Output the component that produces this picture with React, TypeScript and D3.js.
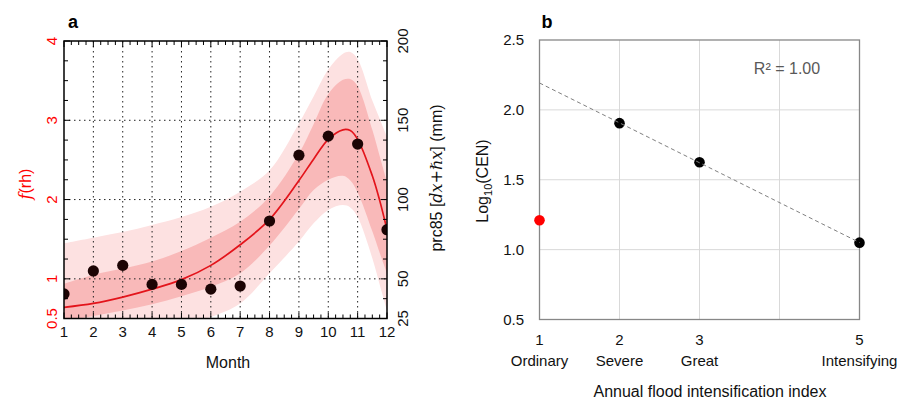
import React from "react";
import * as d3 from "d3";

// panel a: monthly precipitation (mm, right axis) and f(rh) fit with bands (left axis)
const months = d3.range(1, 13);
const monthRain = [40.5, 55, 58.5, 46.5, 46.5, 43.5, 45.5, 86.5, 128, 140, 135, 81];

const fitMonths = [1, 2, 3, 4, 5, 6, 7, 8, 9, 9.5, 10, 10.5, 10.75, 11, 11.5, 11.75, 12];
const fitValue = [0.64, 0.69, 0.77, 0.87, 0.99, 1.17, 1.43, 1.75, 2.24, 2.51, 2.76, 2.88, 2.87, 2.76, 2.3, 1.99, 1.62];
const outerHigh = [1.45, 1.52, 1.59, 1.68, 1.78, 1.91, 2.1, 2.37, 2.96, 3.3, 3.64, 3.84, 3.86, 3.77, 3.25, 3.02, 2.79];
const innerHigh = [0.94, 1.05, 1.13, 1.22, 1.35, 1.52, 1.72, 2.04, 2.58, 2.95, 3.33, 3.51, 3.52, 3.43, 2.88, 2.55, 2.22];
const innerLow = [0.47, 0.53, 0.6, 0.68, 0.78, 0.9, 1.07, 1.42, 1.88, 2.12, 2.25, 2.3, 2.24, 2.09, 1.6, 1.33, 1.07];
const outerLow = [0.25, 0.27, 0.3, 0.35, 0.42, 0.52, 0.69, 1.07, 1.47, 1.7, 1.87, 1.93, 1.9, 1.78, 1.26, 0.93, 0.6];

const fTicks = [0.5, 1, 2, 3, 4];
const mmTicks = [25, 50, 100, 150, 200];

// panel b: CEN vs flood intensification index
const floodIndex = [2, 3, 5];
const logCen = [1.905, 1.625, 1.05];
const ordinaryPoint = { x: 1, y: 1.21 };
const bTicksX = [1, 2, 3, 5];
const bTickNames = ["Ordinary", "Severe", "Great", "Intensifying"];
const bTicksY = [0.5, 1.0, 1.5, 2.0, 2.5];

const sans = "'Liberation Sans', Arial, sans-serif";
const serif = "'DejaVu Serif', 'Liberation Serif', serif";

function PanelA() {
  const x = d3.scaleLinear().domain([1, 12]).range([64, 387]);
  const y = d3.scaleLinear().domain([0.5, 4]).range([318.5, 41]);
  const yMm = d3.scaleLinear().domain([25, 200]).range([318.5, 41]);
  const [x0, x1] = x.range();
  const [y0, y1] = y.range();

  const idx = d3.range(fitMonths.length);
  const band = (lo: number[], hi: number[]) =>
    d3
      .area<number>()
      .x((i) => x(fitMonths[i]))
      .y0((i) => y(lo[i]))
      .y1((i) => y(hi[i]))
      .curve(d3.curveCatmullRom)(idx) as string;
  const fitLine = d3
    .line<number>()
    .x((i) => x(fitMonths[i]))
    .y((i) => y(fitValue[i]))
    .curve(d3.curveCatmullRom)(idx) as string;

  const minorY = d3.range(0.5, 4.001, 0.25);
  const minorX = d3.range(1, 12.001, 0.25);

  return (
    <g>
      <defs>
        <clipPath id="clipA">
          <rect x={x0} y={y1} width={x1 - x0} height={y0 - y1} />
        </clipPath>
      </defs>
      <g clipPath="url(#clipA)">
        <path d={band(outerLow, outerHigh)} fill="#fde1e1" />
        <path d={band(innerLow, innerHigh)} fill="#f9b9b9" />
      </g>
      {/* dotted grid */}
      {months.slice(1, 11).map((m) => (
        <line key={"gx" + m} x1={x(m)} x2={x(m)} y1={y1} y2={y0} stroke="#222" strokeWidth={1} strokeDasharray="1.5,3.5" />
      ))}
      {[1, 2, 3].map((v) => (
        <line key={"gy" + v} x1={x0} x2={x1} y1={y(v)} y2={y(v)} stroke="#222" strokeWidth={1} strokeDasharray="1.5,3.5" />
      ))}
      <g clipPath="url(#clipA)">
        <path d={fitLine} fill="none" stroke="#e3141b" strokeWidth={1.7} />
        {months.map((m, i) => (
          <circle key={m} cx={x(m)} cy={yMm(monthRain[i])} r={5.6} fill="#1c0404" />
        ))}
      </g>
      {/* ticks */}
      {minorY.map((v) => {
        const major = Number.isInteger(v);
        const len = major ? 6 : 4;
        return (
          <g key={"ty" + v} stroke="#000" strokeWidth={1}>
            <line x1={x0} x2={x0 + len} y1={y(v)} y2={y(v)} />
            <line x1={x1} x2={x1 - len} y1={y(v)} y2={y(v)} />
          </g>
        );
      })}
      {minorX.map((v) => {
        const major = Number.isInteger(v);
        const len = major ? 6 : 4;
        return (
          <g key={"tx" + v} stroke="#000" strokeWidth={1}>
            <line x1={x(v)} x2={x(v)} y1={y0} y2={y0 - len} />
            <line x1={x(v)} x2={x(v)} y1={y1} y2={y1 + len} />
          </g>
        );
      })}
      <rect x={x0} y={y1} width={x1 - x0} height={y0 - y1} fill="none" stroke="#000" strokeWidth={1.5} />
      {/* tick labels */}
      {months.map((m) => (
        <text key={"lx" + m} x={x(m)} y={337} textAnchor="middle" fontFamily={sans} fontSize={15} fill="#111">
          {m}
        </text>
      ))}
      {fTicks.map((v) => (
        <text key={"lf" + v} transform={`translate(52,${y(v)}) rotate(-90)`} textAnchor="middle" dy="0.35em" fontFamily={sans} fontSize={15} fill="#ff0000">
          {v}
        </text>
      ))}
      {mmTicks.map((v) => (
        <text key={"lm" + v} transform={`translate(403,${yMm(v)}) rotate(-90)`} textAnchor="middle" dy="0.35em" fontFamily={sans} fontSize={15} fill="#111">
          {v}
        </text>
      ))}
      <text x={228} y={368} textAnchor="middle" fontFamily={sans} fontSize={16} fill="#111">
        Month
      </text>
      <text transform="translate(25,184) rotate(-90)" textAnchor="middle" dy="0.35em" fontSize={16} fill="#ff0000">
        <tspan fontFamily={serif} fontStyle="italic">f</tspan>
        <tspan fontFamily={sans}>(rh)</tspan>
      </text>
      <text transform="translate(436,178) rotate(-90)" textAnchor="middle" dy="0.35em" fontSize={16} fill="#111">
        <tspan fontFamily={sans}>prc85 [</tspan>
        <tspan fontFamily={serif} fontStyle="italic">dx</tspan>
        <tspan fontFamily={serif}>+</tspan>
        <tspan fontFamily={serif} fontStyle="italic">ℏx</tspan>
        <tspan fontFamily={sans}>] (mm)</tspan>
      </text>
      <text x={73} y={28} textAnchor="middle" fontFamily={sans} fontSize={18} fontWeight="bold" fill="#000">
        a
      </text>
    </g>
  );
}

function PanelB() {
  const x = d3.scaleLinear().domain([1, 5]).range([539.5, 859.5]);
  const y = d3.scaleLinear().domain([0.5, 2.5]).range([319.5, 40]);
  const [x0, x1] = x.range();
  const [y0, y1] = y.range();

  // least-squares trend through the three black points
  const mx = d3.mean(floodIndex) as number;
  const my = d3.mean(logCen) as number;
  const slope =
    d3.sum(floodIndex, (v, i) => (v - mx) * (logCen[i] - my)) / d3.sum(floodIndex, (v) => (v - mx) ** 2);
  const trend = (v: number) => my + slope * (v - mx);

  return (
    <g>
      {[2, 3, 4].map((v) => (
        <line key={"gx" + v} x1={x(v)} x2={x(v)} y1={y0} y2={y1} stroke="#d9d9d9" strokeWidth={1} />
      ))}
      {[1.0, 1.5, 2.0].map((v) => (
        <line key={"gy" + v} x1={x0} x2={x1} y1={y(v)} y2={y(v)} stroke="#d9d9d9" strokeWidth={1} />
      ))}
      <rect x={x0} y={y1} width={x1 - x0} height={y0 - y1} fill="none" stroke="#878787" strokeWidth={1.3} />
      {floodIndex.map((v, i) => (
        <circle key={v} cx={x(v)} cy={y(logCen[i])} r={5.3} fill="#000" />
      ))}
      <circle cx={x(ordinaryPoint.x)} cy={y(ordinaryPoint.y)} r={5.3} fill="#ff0000" />
      <line x1={x(1)} y1={y(trend(1))} x2={x(5)} y2={y(trend(5))} stroke="#808080" strokeWidth={1} strokeDasharray="4,3" />
      {bTicksY.map((v) => (
        <text key={"ly" + v} x={524} y={y(v)} dy="0.35em" textAnchor="end" fontFamily={sans} fontSize={15} fill="#111">
          {v.toFixed(1)}
        </text>
      ))}
      {bTicksX.map((v, i) => (
        <g key={"lx" + v}>
          <text x={x(v)} y={345} textAnchor="middle" fontFamily={sans} fontSize={15} fill="#111">
            {v}
          </text>
          <text x={x(v)} y={366} textAnchor="middle" fontFamily={sans} fontSize={15} fill="#111">
            {bTickNames[i]}
          </text>
        </g>
      ))}
      <text x={710} y={397} textAnchor="middle" fontFamily={sans} fontSize={16} fill="#111">
        Annual flood intensification index
      </text>
      <text transform="translate(482,181) rotate(-90)" textAnchor="middle" dy="0.35em" fontFamily={sans} fontSize={16} fill="#111">
        Log<tspan fontSize={11} dy="4">10</tspan>
        <tspan dy="-4">(CEN)</tspan>
      </text>
      <text x={787} y={74} textAnchor="middle" fontFamily={sans} fontSize={16} fill="#595959">
        R² = 1.00
      </text>
      <text x={547} y={28} textAnchor="middle" fontFamily={sans} fontSize={18} fontWeight="bold" fill="#000">
        b
      </text>
    </g>
  );
}

export default function App() {
  return (
    <svg
      width={905}
      height={402}
      style={{ position: "absolute", left: 0, top: 0, background: "#fff" }}
    >
      <PanelA />
      <PanelB />
    </svg>
  );
}
